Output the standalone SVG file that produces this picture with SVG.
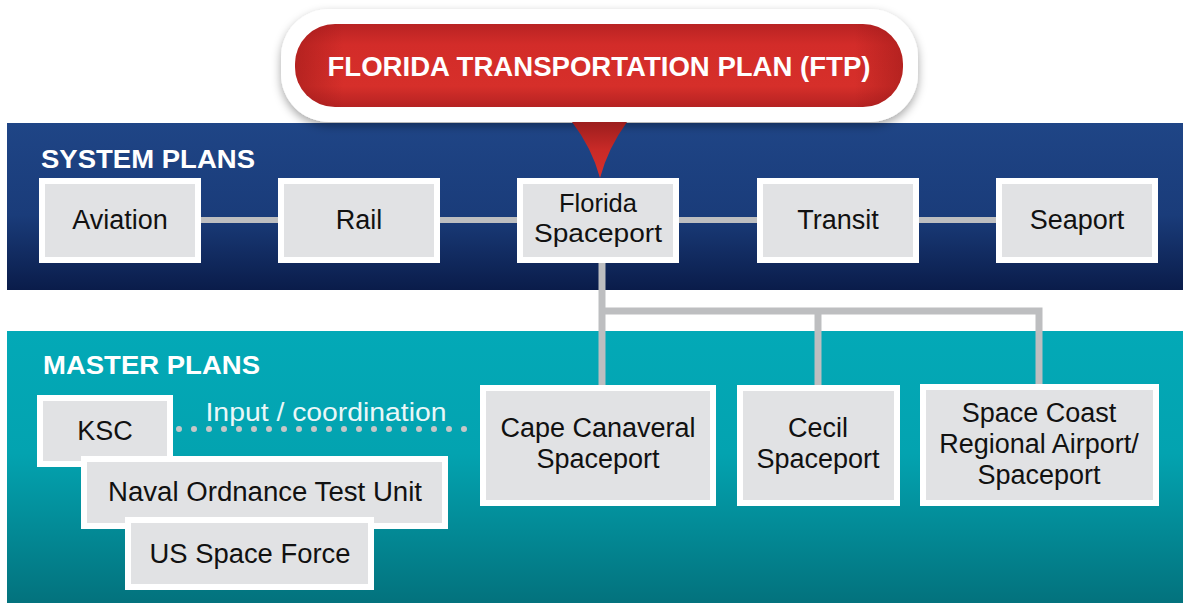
<svg xmlns="http://www.w3.org/2000/svg" width="1183" height="603" viewBox="0 0 1183 603">
  <style>
    .box-outer { fill: #ffffff; }
    .box-inner { fill: #e1e2e4; }
    .lbl { font-family: "Liberation Sans", Arial, sans-serif; font-size: 27px; fill: #111111; text-anchor: middle; }
    .lbl-sm { font-family: "Liberation Sans", Arial, sans-serif; font-size: 25.5px; fill: #111111; text-anchor: middle; }
    .hdr { font-family: "Liberation Sans", Arial, sans-serif; font-size: 26px; font-weight: bold; fill: #ffffff; }
    .conn { fill: none; stroke: #bdbec0; stroke-width: 6; }
    .tree { fill: none; stroke: #bdbec0; stroke-width: 7; stroke-linejoin: miter; }
    .dots { fill: none; stroke: #c6c7c8; stroke-width: 6; stroke-linecap: round; stroke-dasharray: 0 15; }
  </style>
  <defs>
    <linearGradient id="blueBand" x1="0" y1="0" x2="0" y2="1">
      <stop offset="0" stop-color="#1f4586"/>
      <stop offset="0.55" stop-color="#1a3c7a"/>
      <stop offset="1" stop-color="#0a1c4a"/>
    </linearGradient>
    <linearGradient id="tealBand" x1="0" y1="0" x2="0" y2="1">
      <stop offset="0" stop-color="#03a9b7"/>
      <stop offset="0.45" stop-color="#03a3b0"/>
      <stop offset="1" stop-color="#03727d"/>
    </linearGradient>
    <linearGradient id="redV" x1="0" y1="0" x2="0" y2="1">
      <stop offset="0" stop-color="#b82323"/>
      <stop offset="0.25" stop-color="#d32c29"/>
      <stop offset="0.75" stop-color="#d62f2a"/>
      <stop offset="1" stop-color="#b52222"/>
    </linearGradient>
    <linearGradient id="redH" x1="0" y1="0" x2="1" y2="0">
      <stop offset="0" stop-color="#8e1515" stop-opacity="0.45"/>
      <stop offset="0.08" stop-color="#8e1515" stop-opacity="0"/>
      <stop offset="0.92" stop-color="#8e1515" stop-opacity="0"/>
      <stop offset="1" stop-color="#8e1515" stop-opacity="0.45"/>
    </linearGradient>
    <linearGradient id="triGrad" x1="0" y1="0" x2="0" y2="1">
      <stop offset="0" stop-color="#9c1e1e"/>
      <stop offset="0.5" stop-color="#c92a27"/>
      <stop offset="1" stop-color="#d8302b"/>
    </linearGradient>
    <filter id="pillShadow" x="-10%" y="-30%" width="120%" height="170%">
      <feDropShadow dx="0" dy="4" stdDeviation="5" flood-color="#000000" flood-opacity="0.35"/>
    </filter>
  </defs>

  <rect x="0" y="0" width="1183" height="603" fill="#ffffff"/>

  <!-- bands -->
  <rect id="system-band" x="7" y="123" width="1176" height="167" fill="url(#blueBand)"/>
  <rect id="master-band" x="7" y="331" width="1176" height="272" fill="url(#tealBand)"/>

  <text class="hdr" x="41" y="168" textLength="214" lengthAdjust="spacingAndGlyphs">SYSTEM PLANS</text>
  <text class="hdr" x="43" y="374" textLength="217" lengthAdjust="spacingAndGlyphs">MASTER PLANS</text>

  <!-- top node -->
  <g id="ftp">
    <rect x="281" y="9" width="637" height="113" rx="48" ry="48" fill="#ffffff" filter="url(#pillShadow)"/>
    <rect x="295" y="24" width="608" height="83" rx="40" ry="40" fill="url(#redV)"/>
    <rect x="295" y="24" width="608" height="83" rx="40" ry="40" fill="url(#redH)"/>
    <text x="599" y="76" font-family="'Liberation Sans', Arial, sans-serif" font-size="27" font-weight="bold" fill="#ffffff" text-anchor="middle" textLength="543" lengthAdjust="spacingAndGlyphs">FLORIDA TRANSPORTATION PLAN (FTP)</text>
  </g>
  <path id="ftp-pointer" d="M572,122 Q592,148 600,178 Q608,148 627,122 Z" fill="url(#triGrad)"/>

  <!-- connectors -->
  <g id="connectors">
    <line class="conn" x1="201" y1="220" x2="278" y2="220"/>
    <line class="conn" x1="440" y1="220" x2="517" y2="220"/>
    <line class="conn" x1="679" y1="220" x2="757" y2="220"/>
    <line class="conn" x1="919" y1="220" x2="996" y2="220"/>
    <path class="tree" d="M602,263 V386"/>
    <path class="tree" d="M602,311 H1039 V385"/>
    <path class="tree" d="M818,311 V386"/>
    <line class="dots" x1="179" y1="429" x2="479" y2="429"/>
    <text x="326" y="421" font-family="'Liberation Sans', Arial, sans-serif" font-size="26" fill="#eaf7f8" text-anchor="middle" textLength="241" lengthAdjust="spacingAndGlyphs">Input / coordination</text>
  </g>

  <!-- system plan nodes -->
  <g id="aviation">
    <rect class="box-outer" x="39" y="178" width="162" height="85"/>
    <rect class="box-inner" x="45" y="184" width="150" height="73"/>
    <text class="lbl" x="120" y="229">Aviation</text>
  </g>
  <g id="rail">
    <rect class="box-outer" x="278" y="178" width="162" height="85"/>
    <rect class="box-inner" x="284" y="184" width="150" height="73"/>
    <text class="lbl" x="359" y="229">Rail</text>
  </g>
  <g id="florida-spaceport">
    <rect class="box-outer" x="517" y="178" width="162" height="85"/>
    <rect class="box-inner" x="523" y="184" width="150" height="73"/>
    <text class="lbl-sm" x="598" y="212">Florida</text>
    <text class="lbl-sm" x="598" y="242" textLength="128" lengthAdjust="spacingAndGlyphs">Spaceport</text>
  </g>
  <g id="transit">
    <rect class="box-outer" x="757" y="178" width="162" height="85"/>
    <rect class="box-inner" x="763" y="184" width="150" height="73"/>
    <text class="lbl" x="838" y="229">Transit</text>
  </g>
  <g id="seaport">
    <rect class="box-outer" x="996" y="178" width="162" height="85"/>
    <rect class="box-inner" x="1002" y="184" width="150" height="73"/>
    <text class="lbl" x="1077" y="229">Seaport</text>
  </g>

  <!-- master plan nodes -->
  <g id="cape-canaveral">
    <rect class="box-outer" x="480" y="385" width="236" height="121"/>
    <rect class="box-inner" x="486" y="391" width="224" height="109"/>
    <text class="lbl" x="598" y="437">Cape Canaveral</text>
    <text class="lbl" x="598" y="468">Spaceport</text>
  </g>
  <g id="cecil">
    <rect class="box-outer" x="737" y="385" width="163" height="121"/>
    <rect class="box-inner" x="743" y="391" width="151" height="109"/>
    <text class="lbl" x="818" y="437">Cecil</text>
    <text class="lbl" x="818" y="468">Spaceport</text>
  </g>
  <g id="space-coast">
    <rect class="box-outer" x="920" y="384" width="239" height="122"/>
    <rect class="box-inner" x="926" y="390" width="227" height="110"/>
    <text class="lbl" x="1039" y="422">Space Coast</text>
    <text class="lbl" x="1039" y="453">Regional Airport/</text>
    <text class="lbl" x="1039" y="484">Spaceport</text>
  </g>

  <!-- left stack -->
  <g id="ksc">
    <rect class="box-outer" x="37" y="395" width="136" height="72"/>
    <rect class="box-inner" x="43" y="401" width="124" height="60"/>
    <text class="lbl" x="105" y="440">KSC</text>
  </g>
  <g id="naval-ordnance">
    <rect class="box-outer" x="81" y="456" width="367" height="73"/>
    <rect class="box-inner" x="87" y="462" width="355" height="61"/>
    <text class="lbl" x="265" y="501" textLength="314" lengthAdjust="spacingAndGlyphs">Naval Ordnance Test Unit</text>
  </g>
  <g id="us-space-force">
    <rect class="box-outer" x="125" y="517" width="249" height="73"/>
    <rect class="box-inner" x="131" y="523" width="237" height="61"/>
    <text class="lbl" x="250" y="563" textLength="201" lengthAdjust="spacingAndGlyphs">US Space Force</text>
  </g>
</svg>
